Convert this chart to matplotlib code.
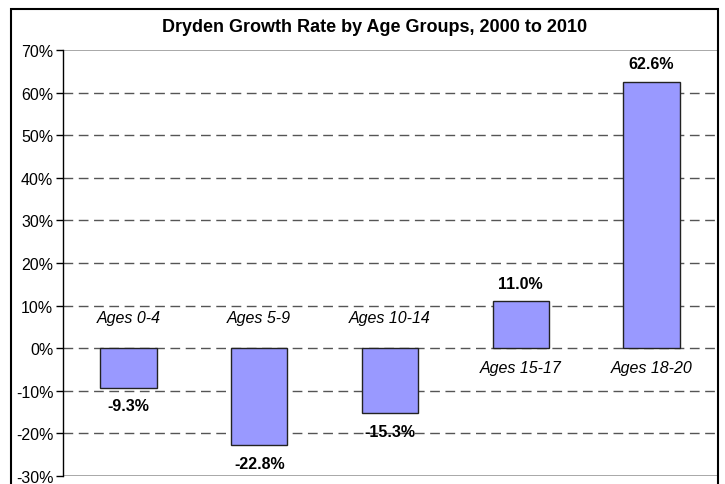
import matplotlib.pyplot as plt
from matplotlib.patches import Rectangle
from matplotlib.ticker import FuncFormatter

plt.rcParams['font.family'] = ['Liberation Sans', 'DejaVu Sans']

categories = ["Ages 0-4", "Ages 5-9", "Ages 10-14", "Ages 15-17", "Ages 18-20"]
growth = [-9.3, -22.8, -15.3, 11.0, 62.6]
yticks = [-30, -20, -10, 0, 10, 20, 30, 40, 50, 60, 70]

fig = plt.figure(figsize=(7.25, 4.85), dpi=100)
ax = fig.add_axes([63 / 725, 1 - 477 / 485, 654 / 725, 426 / 485])

x = list(range(len(categories)))
ax.bar(x, growth, width=0.43, color="#9999FF", edgecolor="#222222", linewidth=1, zorder=3)

ax.set_ylim(-30, 70)
ax.set_xlim(-0.5, len(categories) - 0.5)
ax.set_yticks(yticks)
ax.yaxis.set_major_formatter(FuncFormatter(lambda v, p: f"{v:.0f}%"))
ax.tick_params(axis="y", labelsize=11.5, length=5, width=1, color="black", pad=2)
ax.set_xticks([])

# gridlines: dashed inside, solid at the limits
for t in yticks:
    if t in (-30, 70):
        ax.axhline(t, color="#9a9a9a", linewidth=1.2, zorder=1)
    else:
        ax.axhline(t, color="#555555", linewidth=1, dashes=(7, 4), zorder=1)

for s in ["top", "right", "bottom"]:
    ax.spines[s].set_visible(False)
ax.spines["left"].set_linewidth(1)
ax.spines["left"].set_zorder(4)

for i, (cat, v) in enumerate(zip(categories, growth)):
    if v < 0:
        ax.annotate(f"{v:.1f}%", (i, v), xytext=(0, -13), textcoords="offset points",
                    ha="center", va="center", fontsize=11.5, fontweight="bold", zorder=5)
        ax.annotate(cat, (i, 0), xytext=(0, 22), textcoords="offset points",
                    ha="center", va="center", fontsize=11.5, style="italic", zorder=5)
    else:
        ax.annotate(f"{v:.1f}%", (i, v), xytext=(0, 13), textcoords="offset points",
                    ha="center", va="center", fontsize=11.5, fontweight="bold", zorder=5)
        ax.annotate(cat, (i, 0), xytext=(0, -14), textcoords="offset points",
                    ha="center", va="center", fontsize=11.5, style="italic", zorder=5)

fig.text(0.517, 1 - 27 / 485, "Dryden Growth Rate by Age Groups, 2000 to 2010",
         ha="center", va="center", fontsize=13, fontweight="bold")

# chart border
fig.patches.append(Rectangle((11 / 725, -0.05), 707 / 725, 1.05 - 10 / 485,
                             transform=fig.transFigure, fill=False,
                             edgecolor="black", linewidth=1.5))

fig.savefig("out.png", dpi=100)
